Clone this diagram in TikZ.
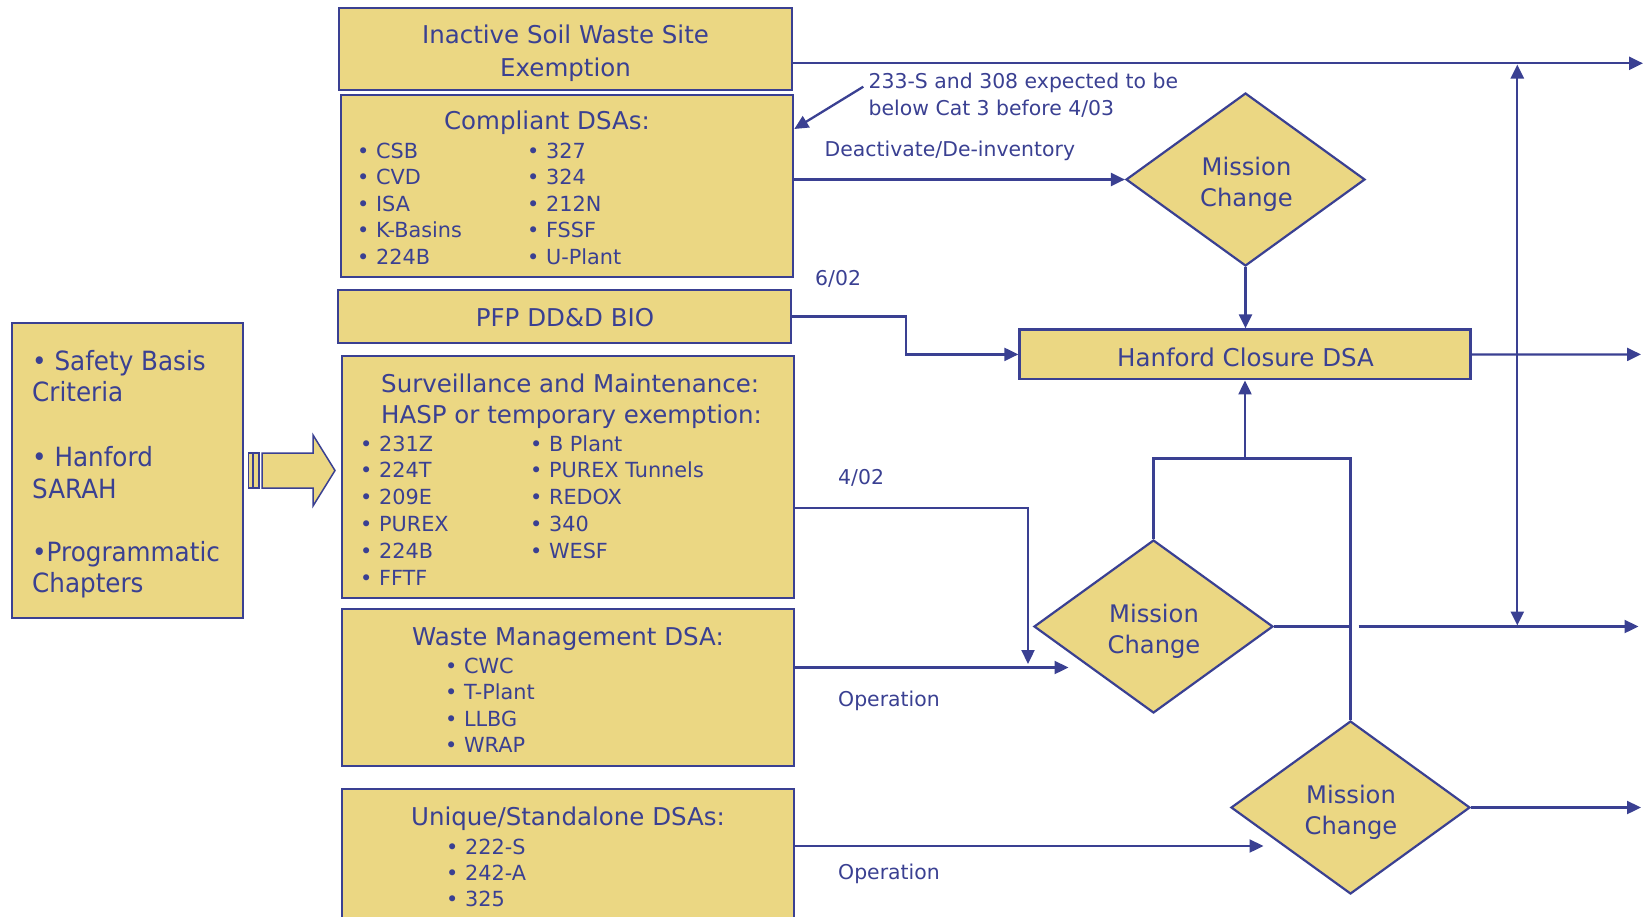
\documentclass[tikz,border=0pt]{standalone}
\usepackage{fontspec}
\setmainfont{DejaVu Sans}
\newfontfamily\leftfont{DejaVu Sans}[FakeStretch=0.93]
\usetikzlibrary{shapes.geometric,arrows.meta,calc,fit}
\definecolor{navy}{RGB}{58,64,146}
\definecolor{sand}{RGB}{235,215,131}
\begin{document}
\begin{tikzpicture}[x=1pt,y=-1pt,
  box/.style={draw=navy, fill=sand, line width=2.3pt, inner sep=0pt, rectangle},
  dia/.style={draw=navy, fill=sand, line width=2.2pt, diamond, inner sep=0pt, minimum width=239pt, minimum height=173pt},
  ttl/.style={font=\fontsize{24.5}{30}\selectfont, text=navy, inner sep=0pt},
  dtxt/.style={font=\fontsize{24.2}{30}\selectfont, text=navy, inner sep=0pt, anchor=base},
  lft/.style={font=\fontsize{26.5}{30}\leftfont, text=navy, inner sep=0pt, anchor=base west},
  itm/.style={font=\fontsize{20.8}{26}\selectfont, text=navy, inner sep=0pt, anchor=base west},
  lbl/.style={font=\fontsize{20.4}{26}\selectfont, text=navy, inner sep=0pt, anchor=base west},
  conn/.style={draw=navy, line width=2.3pt},
  arr/.style={conn, -{Triangle[length=14pt,width=13pt]}},
  arrs/.style={conn, {Triangle[length=14pt,width=13pt]}-{Triangle[length=14pt,width=13pt]}},
  blk/.style={draw=navy, fill=sand, line width=1.5pt},
]
\useasboundingbox (0,0) rectangle (1644,916);

% ---------- boxes ----------
\node[box, fit={(12.3,322.7) (243.3,617.7)}] (basis) {};
\node[box, fit={(339.3,8.3) (791.7,90)}] (inactive) {};
\node[box, fit={(341,95) (793,277.3)}] (compliant) {};
\node[box, fit={(338.3,290) (790.7,342.7)}] (pfp) {};
\node[box, fit={(342.3,356) (794,597.7)}] (surv) {};
\node[box, fit={(342.3,609.3) (794,765.7)}] (waste) {};
\node[box, fit={(341.7,789.3) (794,930)}] (unique) {};
\node[box, fit={(1019.5,329.5) (1470.5,379.3)}] (hanford) {};

% ---------- diamonds ----------
\node[dia] (m1) at (1245.5,179.5) {};
\node[dia] (m2) at (1153.5,626.5) {};
\node[dia] (m3) at (1350.5,807.5) {};

% ---------- block arrow ----------
\draw[blk] (248.3,453) rectangle (252.3,488);
\draw[blk] (253.5,453) rectangle (259,488);
\draw[blk] (262,453) -- (313,453) -- (313,435) -- (335,470.5) -- (313,506) -- (313,488) -- (262,488) -- cycle;

% ---------- left box text ----------
\node[lft] (b1) at (32,370.7) {• Safety Basis};
\node[lft] (b2) at (32,401.7) {Criteria};
\node[lft] (b3) at (32,466.7) {• Hanford};
\node[lft] (b4) at (32,498.3) {SARAH};
\node[lft] (b5) at (32,561.7) {•Programmatic};
\node[lft] (b6) at (32,592.7) {Chapters};

% ---------- inactive ----------
\node[ttl, anchor=base] (in1) at (565.5,43.5) {Inactive Soil Waste Site};
\node[ttl, anchor=base] (in2) at (565.5,76) {Exemption};

% ---------- compliant ----------
\node[ttl, anchor=base] (co0) at (547,129.5) {Compliant DSAs:};
\node[itm] (ca1) at (357,158.5) {• CSB};
\node[itm] (ca2) at (357,184.9) {• CVD};
\node[itm] (ca3) at (357,211.3) {• ISA};
\node[itm] (ca4) at (357,237.7) {• K-Basins};
\node[itm] (ca5) at (357,264.1) {• 224B};
\node[itm] (cb1) at (527,158.5) {• 327};
\node[itm] (cb2) at (527,184.9) {• 324};
\node[itm] (cb3) at (527,211.3) {• 212N};
\node[itm] (cb4) at (527,237.7) {• FSSF};
\node[itm] (cb5) at (527,264.1) {• U-Plant};

% ---------- pfp ----------
\node[ttl, anchor=base] (pf) at (565,326.5) {PFP DD\&D BIO};

% ---------- surveillance ----------
\node[ttl, anchor=base west] (su1) at (381,392) {Surveillance and Maintenance:};
\node[ttl, anchor=base west] (su2) at (381,423.5) {HASP or temporary exemption:};
\node[itm] (sa1) at (360,451) {• 231Z};
\node[itm] (sa2) at (360,477.8) {• 224T};
\node[itm] (sa3) at (360,504.6) {• 209E};
\node[itm] (sa4) at (360,531.4) {• PUREX};
\node[itm] (sa5) at (360,558.2) {• 224B};
\node[itm] (sa6) at (360,585) {• FFTF};
\node[itm] (sb1) at (530,451) {• B Plant};
\node[itm] (sb2) at (530,477.8) {• PUREX Tunnels};
\node[itm] (sb3) at (530,504.6) {• REDOX};
\node[itm] (sb4) at (530,531.4) {• 340};
\node[itm] (sb5) at (530,558.2) {• WESF};

% ---------- waste ----------
\node[ttl, anchor=base] (wa0) at (568,645) {Waste Management DSA:};
\node[itm] (wa1) at (445,673) {• CWC};
\node[itm] (wa2) at (445,699.6) {• T-Plant};
\node[itm] (wa3) at (445,726.2) {• LLBG};
\node[itm] (wa4) at (445,752.8) {• WRAP};

% ---------- unique ----------
\node[ttl, anchor=base] (un0) at (568,825.7) {Unique/Standalone DSAs:};
\node[itm] (un1) at (446,854) {• 222-S};
\node[itm] (un2) at (446,880) {• 242-A};
\node[itm] (un3) at (446,906) {• 325};

% ---------- hanford / diamonds text ----------
\node[ttl, anchor=base] (ha) at (1245.5,366) {Hanford Closure DSA};
\node[dtxt] (m1a) at (1246.5,175) {Mission};
\node[dtxt] (m1b) at (1246.5,206.5) {Change};
\node[dtxt] (m2a) at (1154,622) {Mission};
\node[dtxt] (m2b) at (1154,653.5) {Change};
\node[dtxt] (m3a) at (1351,803) {Mission};
\node[dtxt] (m3b) at (1351,834.5) {Change};

% ---------- labels ----------
\node[lbl] (n1) at (868.5,88.3) {233-S and 308 expected to be};
\node[lbl] (n2) at (868.5,115) {below Cat 3 before 4/03};
\node[lbl] (dd) at (824.5,156.7) {Deactivate/De-inventory};
\node[lbl] (l602) at (815,285) {6/02};
\node[lbl] (l402) at (838,484) {4/02};
\node[lbl] (op1) at (838,706) {Operation};
\node[lbl] (op2) at (838,879) {Operation};

% ---------- connectors ----------
\coordinate (endA) at (1643,63.3);
\draw[arr] (inactive.east |- endA) -- (endA);
\coordinate (nS) at (863.3,86.7);
\coordinate (nE) at (794.3,129);
\draw[arr] (nS) -- (nE);
\draw[arr] (compliant.east |- m1.west) -- (m1.west);
\draw[arr] (m1.south) -- (m1.south |- hanford.north);
\draw[arr] (pfp.east) -- ++(114,0) |- (hanford.west);
\coordinate (endB) at (1641,354.4);
\draw[arr] (hanford.east) -- (endB);
\coordinate (jn) at (1245,458.5);
\draw[arr] (m2.north) |- (jn) -- (jn |- hanford.south);
\draw[conn] (m3.north) |- (jn);
\coordinate (gapR) at (1358.5,626.5);
\coordinate (endC) at (1638.5,626.5);
\draw[conn] (m2.east) -- (m2.east -| m3.north);
\draw[arr] (gapR) -- (endC);
\coordinate (vTop) at (1517.3,64.5);
\coordinate (vBot) at (1517.3,625.5);
\draw[arrs] (vBot) -- (vTop);
\coordinate (sA) at (1028,508);
\coordinate (sB) at (1028,664);
\draw[arr] (surv.east |- sA) -- (sA) -- (sB);
\coordinate (wA) at (1068.5,667.5);
\draw[arr] (waste.east |- wA) -- (wA);
\coordinate (uA) at (1263.5,846);
\draw[arr] (unique.east |- uA) -- (uA);
\coordinate (endD) at (1641,807.5);
\draw[arr] (m3.east) -- (endD);
\end{tikzpicture}
\end{document}
